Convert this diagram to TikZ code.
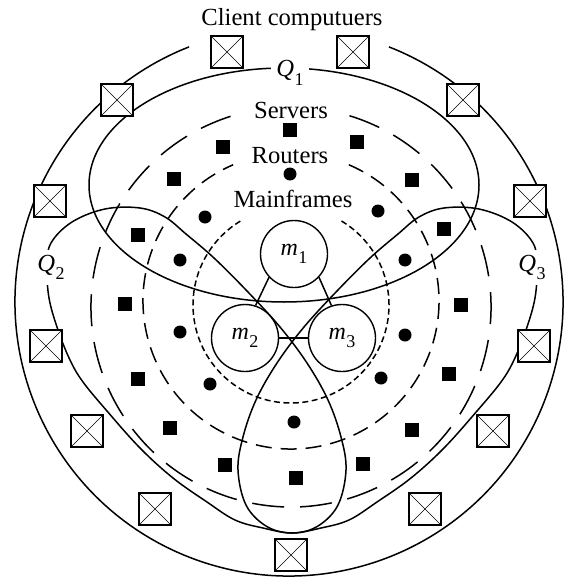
\documentclass[tikz,border=0pt]{standalone}
\usepackage{fontspec}
\setmainfont{Liberation Serif}
\newcommand{\lbl}[2]{\textit{#1}\kern0.5pt\raisebox{-8.5pt}{\fontsize{18}{18}\selectfont #2}}
\begin{document}
\begin{tikzpicture}[x=1pt,y=-1pt,
  lw/.style={line width=1.5pt},
  client/.style={draw, fill=white, line width=1.2pt, minimum size=32pt, inner sep=0pt,
    path picture={\draw[line width=0.6pt] (path picture bounding box.south west) -- (path picture bounding box.north east)
      (path picture bounding box.north west) -- (path picture bounding box.south east);}},
  server/.style={fill=black, minimum size=14pt, inner sep=0pt},
  router/.style={circle, fill=black, minimum size=13pt, inner sep=0pt},
  mainframe/.style={circle, draw, line width=1.4pt, minimum size=67pt, inner sep=0pt, font=\fontsize{24}{24}\selectfont},
  region/.style={font=\fontsize{24.6}{26}\selectfont, inner sep=0pt},
  qlabel/.style={fill=white, inner sep=5pt, font=\fontsize{24.6}{26}\selectfont},
  longdash/.style={lw, dash pattern=on 32pt off 16pt},
  meddash/.style={lw, dash pattern=on 16pt off 9pt},
  shortdash/.style={lw, dash pattern=on 6pt off 3.5pt},
]
\useasboundingbox (0,0) rectangle (563,578);

% dashed rings
\draw[longdash] (291,307) ++(287:200) arc[start angle=287, end angle=613, radius=200];
\draw[meddash] (291,301) ++(293:148) arc[start angle=293, end angle=607, radius=148];
\draw[shortdash] (291,305) ++(301:98) arc[start angle=301, end angle=599, radius=98];

% outer ring (client computers)
\draw[lw] (289,302) ++(291.4:274) arc[start angle=291.4, end angle=608.6, radius=274];

% Q lobes
\draw[lw] (284,185) ellipse[x radius=195, y radius=117];
\draw[lw] plot[smooth cycle, tension=0.6] coordinates {(47,266) (51,243) (72,222) (105,209) (140,208) (165,217) (186,234) (214,258) (247,291) (280,327) (307,363) (328,400) (341,437) (346,470) (338,505) (318,526) (293,533) (263,528) (235,520) (207,502) (173,478) (140,448) (107,411) (83,382) (70,360) (58,330) (49,298)};
\draw[lw] plot[smooth cycle, tension=0.6] coordinates {(537,266) (533,243) (512,222) (479,209) (444,208) (419,217) (398,234) (370,258) (337,291) (304,327) (277,363) (256,400) (243,437) (238,470) (246,505) (266,526) (291,533) (321,528) (349,520) (377,502) (411,478) (444,448) (477,411) (501,382) (514,360) (526,330) (535,298)};

% client computers
\node[client] (c1) at (227,52) {};
\node[client] (c2) at (353,52) {};
\node[client] (c3) at (117,100) {};
\node[client] (c4) at (463,100) {};
\node[client] (c5) at (50,201) {};
\node[client] (c6) at (530,201) {};
\node[client] (c7) at (46,346) {};
\node[client] (c8) at (534,346) {};
\node[client] (c9) at (87,431) {};
\node[client] (c10) at (493,431) {};
\node[client] (c11) at (155,509) {};
\node[client] (c12) at (425,509) {};
\node[client] (c13) at (291,555) {};

% servers
\node[server] (s1) at (290,130) {};
\node[server] (s2) at (223,147) {};
\node[server] (s3) at (357,142) {};
\node[server] (s4) at (174,179) {};
\node[server] (s5) at (412,180) {};
\node[server] (s6) at (138,235) {};
\node[server] (s7) at (444,229) {};
\node[server] (s8) at (125,304) {};
\node[server] (s9) at (461,305) {};
\node[server] (s10) at (138,379) {};
\node[server] (s11) at (449,374) {};
\node[server] (s12) at (170,428) {};
\node[server] (s13) at (412,430) {};
\node[server] (s14) at (225,465) {};
\node[server] (s15) at (363,464) {};
\node[server] (s16) at (296,478) {};

% routers
\node[router] (r1) at (290,174) {};
\node[router] (r2) at (205,217) {};
\node[router] (r3) at (378,211) {};
\node[router] (r4) at (180,260) {};
\node[router] (r5) at (405,260) {};
\node[router] (r6) at (180,332) {};
\node[router] (r7) at (405,335) {};
\node[router] (r8) at (210,384) {};
\node[router] (r9) at (381,378) {};
\node[router] (r10) at (294,422) {};

% mainframes
\node[mainframe] (m1) at (294,254) {\lbl{m}{1}};
\node[mainframe] (m2) at (245,338) {\lbl{m}{2}};
\node[mainframe] (m3) at (342,338) {\lbl{m}{3}};
\draw[lw] (m1.223) -- (m2.72);
\draw[lw] (m1.317) -- (m3.108);
\draw[lw] (m2.east) -- (m3.west);

% labels
\node[region, anchor=base] (client) at (292,26) {Client computuers};
\node[region, anchor=base] (servers) at (291,118) {Servers};
\node[region, anchor=base] (routers) at (290,163) {Routers};
\node[region, anchor=base] (mainfr) at (293,207) {Mainframes};
\node[qlabel, anchor=base] (q1) at (290,77) {\lbl{Q}{1}};
\node[qlabel, anchor=base] (q2) at (51,271) {\lbl{Q}{2}};
\node[qlabel, anchor=base] (q3) at (532,271) {\lbl{Q}{3}};
\end{tikzpicture}
\end{document}
